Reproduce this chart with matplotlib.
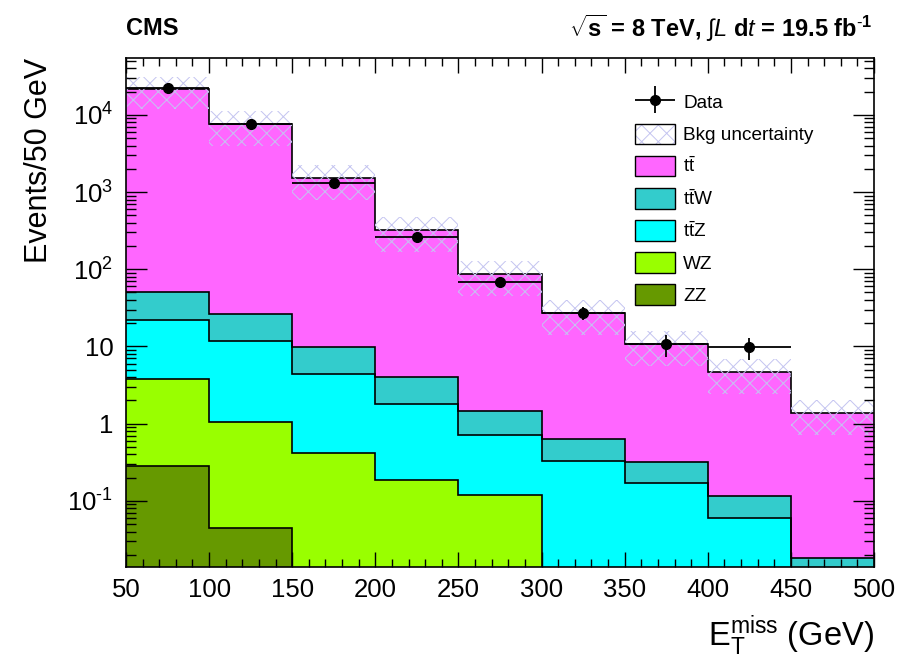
"""stacked MET distribution with data overlay, ROOT/CMS style"""

import numpy as np
import matplotlib
matplotlib.use("Agg")
import matplotlib.pyplot as plt
from matplotlib.patches import Patch
from matplotlib.legend_handler import HandlerErrorbar
from matplotlib.ticker import LogLocator, MultipleLocator, FuncFormatter, NullFormatter

plt.rcParams['font.family'] = ['Liberation Sans', 'DejaVu Sans']
plt.rcParams['mathtext.fontset'] = 'custom'
plt.rcParams['mathtext.rm'] = 'Liberation Sans'
plt.rcParams['mathtext.it'] = 'Liberation Sans:italic'
plt.rcParams['mathtext.bf'] = 'Liberation Sans:bold'
plt.rcParams['hatch.linewidth'] = 0.7

# binning (GeV)
bin_edges = [50, 100, 150, 200, 250, 300, 350, 400, 450, 500]

# per-process expected events per bin
ttbar = [21450, 7660, 1505, 317, 85, 26.4, 10.4, 4.5, 1.35]
ttW = [28.6, 14.5, 5.4, 2.2, 0.74, 0.30, 0.15, 0.055, 0.014]
ttZ = [18.1, 10.65, 4.0, 1.6, 0.59, 0.33, 0.17, 0.06, 0.004]
WZ = [3.5, 1.0, 0.41, 0.185, 0.12, 0, 0, 0, 0]
ZZ = [0.28, 0.045, 0, 0, 0, 0, 0, 0, 0]

# relative background uncertainty per bin
bkg_unc = [0.45, 0.48, 0.48, 0.48, 0.48, 0.48, 0.48, 0.48, 0.48]

# observed data (first 8 bins)
data_x = [75, 125, 175, 225, 275, 325, 375, 425]
data_y = [22000, 7600, 1290, 258, 67.4, 27, 10.7, 9.8]
data_err = [148, 87, 36, 16, 8.2, 5.2, 3.3, 3.1]

procs = [
    ('ZZ', ZZ, '#669900'),
    ('WZ', WZ, '#99ff00'),
    (r'$\mathrm{t\bar{t}Z}$', ttZ, '#00ffff'),
    (r'$\mathrm{t\bar{t}W}$', ttW, '#33cccc'),
    (r'$\mathrm{t\bar{t}}$', ttbar, '#ff66ff'),
]

floor = 1e-4
edges = np.array(bin_edges, dtype=float)

fig = plt.figure(figsize=(9.22, 6.62), dpi=100)
ax = fig.add_axes([126/922, 1 - 566.7/662, 748/922, 508.4/662])
ax.set_yscale('log')

# cumulative stack, bottom to top
cums = []
running = np.zeros(len(ttbar))
for name, vals, col in procs:
    running = running + np.array(vals, dtype=float)
    cums.append(running.copy())

# fills: top-most first so lower layers paint over
for (name, vals, col), cum in reversed(list(zip(procs, cums))):
    ax.stairs(np.maximum(cum, floor), edges, baseline=floor, fill=True,
              facecolor=col, edgecolor='none', linewidth=0)
for cum in cums:
    ax.stairs(np.maximum(cum, floor), edges, baseline=None, color='black',
              linewidth=1.2)

# background uncertainty band
total = cums[-1]
unc = np.array(bkg_unc)
ax.stairs(total * (1 + unc), edges, baseline=total * (1 - unc), fill=True,
          facecolor='none', edgecolor='#c4c4f0', linewidth=0, hatch='xx')

# data
dat = ax.errorbar(data_x, data_y, yerr=data_err, xerr=25, fmt='o', color='black',
                  markersize=7, elinewidth=1.3, capsize=0)

ax.set_xlim(50, 500)
ax.set_ylim(0.014, 5.4e4)

ax.xaxis.set_major_locator(MultipleLocator(50))
ax.xaxis.set_minor_locator(MultipleLocator(10))
ax.yaxis.set_major_locator(LogLocator(base=10, numticks=20))
ax.yaxis.set_minor_locator(LogLocator(base=10, subs=np.arange(2, 10), numticks=20))
ax.yaxis.set_minor_formatter(NullFormatter())


def _ylab(v, pos):
    k = int(round(np.log10(v)))
    if k == 0:
        return '1'
    if k == 1:
        return '10'
    if k < 0:
        return r'$\mathrm{10^{\text{-}%d}}$' % (-k)
    return r'$\mathrm{10^{%d}}$' % k


ax.yaxis.set_major_formatter(FuncFormatter(_ylab))

ax.tick_params(which='both', direction='in', top=True, right=True, width=1.0)
ax.tick_params(axis='x', which='major', length=11, labelsize=18.5, pad=8)
ax.tick_params(axis='x', which='minor', length=5.5)
ax.tick_params(axis='y', which='major', length=15, labelsize=18.5, pad=9)
ax.tick_params(axis='y', which='minor', length=7.5)
for sp in ax.spines.values():
    sp.set_linewidth(1.2)

ax.set_xlabel(r'$\mathrm{E_T^{miss}}$ (GeV)', fontsize=23.5, loc='right', labelpad=8)
ax.set_ylabel('Events/50 GeV', fontsize=22, loc='top', labelpad=10)

fig.text(126/922, 1 - 28.5/662, 'CMS', fontsize=17, fontweight='bold', va='center', ha='left')
fig.text(872/922, 1 - 28.5/662,
         r'$\sqrt{\mathbf{s}}$ = 8 TeV, $\int$$\mathit{L}$ d$\mathit{t}$ = 19.5 fb$^{\text{-}\mathbf{1}}$',
         fontsize=17, fontweight='bold', va='center', ha='right')

# legend
band_handle = (Patch(facecolor='white', edgecolor='#c4c4f0', hatch='xx', linewidth=0),
               Patch(facecolor='none', edgecolor='black', linewidth=1.0))
handles = [dat, band_handle] + [Patch(facecolor=col, edgecolor='black', linewidth=1.0)
                                for name, vals, col in reversed(procs)]
labels = ['Data', 'Bkg uncertainty'] + [name for name, vals, col in reversed(procs)]
ax.legend(handles, labels, loc='upper left', bbox_to_anchor=(0.68, 0.935),
          frameon=False, fontsize=13.7, handlelength=2.1, handleheight=1.3,
          labelspacing=0.6, handletextpad=0.45, borderpad=0, borderaxespad=0,
          handler_map={type(dat): HandlerErrorbar(xerr_size=1.05, yerr_size=0.7)})

fig.savefig('out.png', dpi=100)
